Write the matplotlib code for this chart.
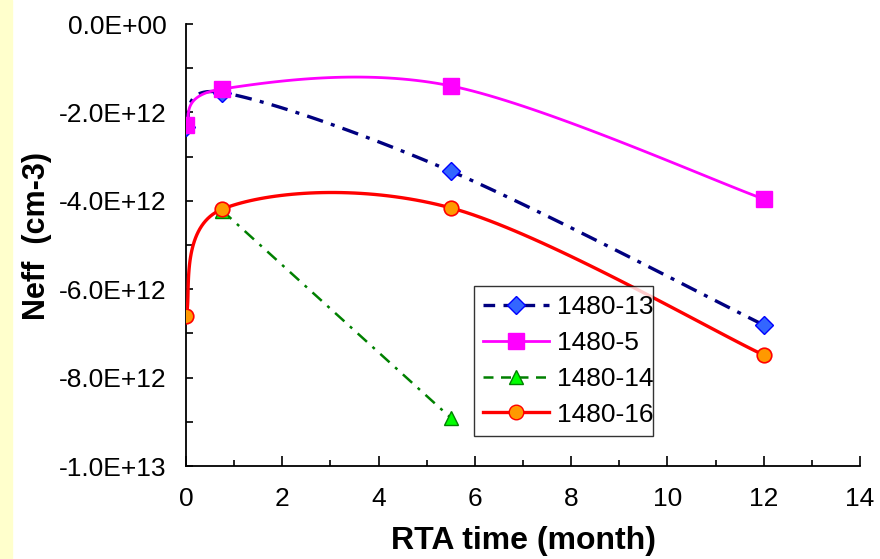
import numpy as np
import matplotlib
matplotlib.use('Agg')
import matplotlib.pyplot as plt
from matplotlib.lines import Line2D
from matplotlib.patches import Rectangle
from matplotlib.ticker import MultipleLocator

plt.rcParams['font.family'] = ['Liberation Sans', 'DejaVu Sans']

# RTA time (month) and Neff (cm-3) per sample
t_13 = [0, 0.75, 5.5, 12]
n_13 = [-2.33e12, -1.55e12, -3.33e12, -6.81e12]
t_5 = [0, 0.75, 5.5, 12]
n_5 = [-2.28e12, -1.47e12, -1.40e12, -3.96e12]
t_14 = [0.75, 5.5]
n_14 = [-4.22e12, -8.91e12]
t_16 = [0, 0.75, 5.5, 12]
n_16 = [-6.60e12, -4.19e12, -4.16e12, -7.49e12]

XMAX, YMIN = 14, -1e13


def smooth(xs, ys, sx, sy, steps=40):
    # Excel-like smoothed line: cubic bezier, control points from neighbours
    p = np.column_stack([np.asarray(xs) * sx, np.asarray(ys) * sy])
    n = len(p)
    out = [p[0]]
    for i in range(n - 1):
        p0, p1 = p[max(i - 1, 0)], p[i]
        p2, p3 = p[i + 1], p[min(i + 2, n - 1)]
        c1 = p1 + (p2 - p0) / 6
        c2 = p2 - (p3 - p1) / 6
        t = np.linspace(0, 1, steps)[1:, None]
        seg = ((1 - t) ** 3 * p1 + 3 * (1 - t) ** 2 * t * c1
               + 3 * (1 - t) * t ** 2 * c2 + t ** 3 * p2)
        out.extend(seg)
    out = np.array(out)
    return out[:, 0] / sx, out[:, 1] / sy


def sci(v, pos):
    s = f"{v:.1E}"
    return s.replace('E+00', 'E+00') if v == 0 else s


fig = plt.figure(figsize=(8.8, 5.59), dpi=100)
fig.patches.append(Rectangle((0, 0), 12 / 880, 1, transform=fig.transFigure,
                             color='#FFFFCC', zorder=0))
ax = fig.add_axes([186 / 880, 1 - 466 / 559, 674 / 880, 442 / 559])

sx = 674 / XMAX
sy = 442 / -YMIN

navy_ls = (0, (5, 2.5, 1.2, 2.5))
green_ls = (0, (5, 3, 1.2, 3))

x, y = smooth(t_13, n_13, sx, sy)
ax.plot(x, y, color='#000080', lw=2.4, ls=navy_ls, zorder=3)
ax.plot(t_13, n_13, ls='none', marker='D', ms=9, mfc='#3366FF', mec='#0000FF',
        mew=1, zorder=5)

x, y = smooth(t_5, n_5, sx, sy)
ax.plot(x, y, color='#FF00FF', lw=2, zorder=3)
ax.plot(t_5, n_5, ls='none', marker='s', ms=11, mfc='#FF00FF', mec='#FF00FF',
        zorder=5)

ax.plot(t_14, n_14, color='#008000', lw=1.8, ls=green_ls, zorder=3)
ax.plot(t_14, n_14, ls='none', marker='^', ms=10, mfc='#00FF00', mec='#008000',
        mew=1, zorder=5)

x, y = smooth(t_16, n_16, sx, sy)
ax.plot(x, y, color='#FF0000', lw=2.4, zorder=3)
ax.plot(t_16, n_16, ls='none', marker='o', ms=10.5, mfc='#FF9900', mec='#FF0000',
        mew=1.2, zorder=5)

ax.set_xlim(0, XMAX)
ax.set_ylim(YMIN, 0)
ax.xaxis.set_major_locator(MultipleLocator(2))
ax.xaxis.set_minor_locator(MultipleLocator(1))
ax.yaxis.set_major_locator(MultipleLocator(2e12))
ax.yaxis.set_minor_locator(MultipleLocator(1e12))
ax.yaxis.set_major_formatter(plt.FuncFormatter(sci))
ax.spines['top'].set_visible(False)
ax.spines['right'].set_visible(False)
for s in ('left', 'bottom'):
    ax.spines[s].set_linewidth(1.3)
ax.tick_params(axis='both', which='both', direction='in', width=1.2,
               labelsize=19)
ax.tick_params(axis='x', which='major', length=7, pad=15)
ax.tick_params(axis='x', which='minor', length=4)
ax.tick_params(axis='y', which='both', length=5, pad=14)

ax.set_xlabel('RTA time (month)', fontsize=23, fontweight='bold')
ax.set_ylabel('Neff  (cm-3)', fontsize=22, fontweight='bold')
ax.xaxis.set_label_coords(0.5, -0.135)
ax.yaxis.set_label_coords(-0.199, 0.52)

handles = [
    Line2D([], [], color='#000080', lw=2.4, ls=(0, (3.5, 2.5)), marker='D',
           ms=9, mfc='#3366FF', mec='#0000FF'),
    Line2D([], [], color='#FF00FF', lw=2, marker='s', ms=11, mfc='#FF00FF',
           mec='#FF00FF'),
    Line2D([], [], color='#008000', lw=1.8, ls=(0, (4, 3)), marker='^', ms=10,
           mfc='#00FF00', mec='#008000'),
    Line2D([], [], color='#FF0000', lw=2.4, marker='o', ms=10.5, mfc='#FF9900',
           mec='#FF0000'),
]
labels = ['1480-13', '1480-5', '1480-14', '1480-16']
leg = ax.legend(handles, labels, loc='lower left',
                bbox_to_anchor=(0.427, 0.068, 0.266, 0.333), mode='expand',
                fontsize=19, frameon=True, fancybox=False, edgecolor='black',
                handlelength=2.5, handletextpad=0.3, borderpad=0.35,
                labelspacing=0.45, borderaxespad=0)
leg.get_frame().set_linewidth(1)

fig.savefig('out.png', dpi=100)
